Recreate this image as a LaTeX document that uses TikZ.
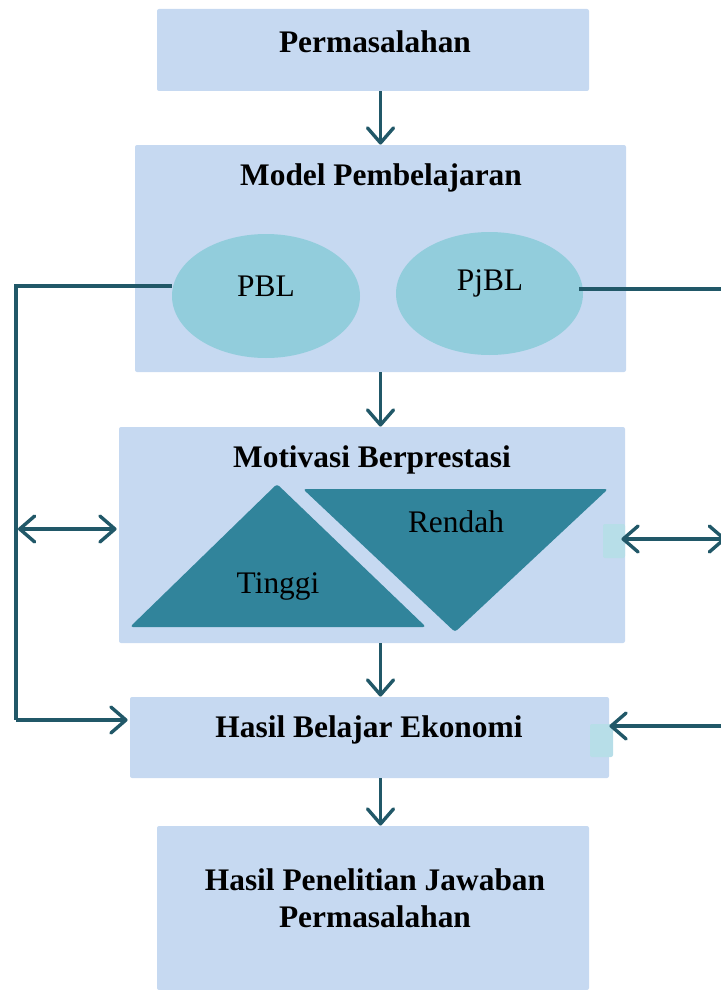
\documentclass[tikz,border=0pt]{standalone}
\usepackage{fontspec}
\setmainfont{Liberation Serif}
\usetikzlibrary{arrows.meta,shapes.geometric}
\definecolor{boxfill}{HTML}{C6D9F1}
\definecolor{ellfill}{HTML}{92CDDC}
\definecolor{trifill}{HTML}{31849B}
\definecolor{linecol}{HTML}{215868}
\definecolor{sqfill}{HTML}{B7DEE8}
\tikzset{
  box/.style={fill=boxfill, draw=none, rounded corners=1pt, inner sep=0pt},
  ell/.style={ellipse, fill=ellfill, draw=none, inner sep=0pt},
  sqbox/.style={fill=sqfill, draw=none, rounded corners=1pt, inner sep=0pt},
  title/.style={font=\fontsize{15.7}{18.5}\selectfont\bfseries, align=center, inner sep=0pt},
  plain/.style={font=\fontsize{15.7}{18.5}\selectfont, inner sep=0pt},
  conn/.style={draw=linecol, line width=1.7pt},
  arr/.style={conn, -{Straight Barb[length=7.5pt,width=13pt,round]}},
  darr/.style={conn, {Straight Barb[length=7.5pt,width=13pt,round]}-{Straight Barb[length=7.5pt,width=13pt,round]}},
  tri/.style={fill=trifill, draw=none, rounded corners=1.5pt}
}
\begin{document}
\begin{tikzpicture}[x=0.5pt,y=-0.5pt]
\useasboundingbox (0,0) rectangle (720,990);
% boxes
\node[box, minimum width=216pt, minimum height=41pt] (box1) at (373,50) {};
\node[box, minimum width=245.5pt, minimum height=113.5pt] (box2) at (380.5,258.5) {};
\node[box, minimum width=253pt, minimum height=108pt] (box3) at (372,535) {};
\node[box, minimum width=239.5pt, minimum height=40.5pt] (box4) at (369.5,737.5) {};
\node[box, minimum width=216pt, minimum height=82pt] (box5) at (373,908) {};
% ellipses
\node[ell, minimum width=94pt, minimum height=62pt] (pbl) at (266,296) {};
\node[ell, minimum width=93.5pt, minimum height=61.5pt] (pjbl) at (489.5,293.5) {};
\node[plain] (pbltxt) at (266,286) {PBL};
\node[plain] (pjbltxt) at (490,283) {PjBL};
% coordinates
\coordinate (L1) at (16,286);
\coordinate (L2) at (16,720);
\coordinate (DL) at (18,529);
\coordinate (R1) at (724,289);
\coordinate (R2) at (726,539);
\coordinate (R3) at (726,726);
% connectors from ellipses
\draw[conn] (pbl.west |- L1) -- (L1) -- (L2);
\draw[arr] (L2) -- ([xshift=-1pt]box4.west |- L2);
\draw[conn] ([xshift=-2pt]pjbl.east |- R1) -- (R1);
% triangles
\draw[tri] (277,484) -- (426,627) -- (130,627) -- cycle;
\draw[tri] (303,489) -- (608,489) -- (455,632) -- cycle;
\node[plain] (tinggi) at (278,586) {Tinggi};
\node[plain] (rendah) at (456,522) {Rendah};
% small squares
\node[sqbox, minimum width=11pt, minimum height=17pt] (sq1) at (614,541) {};
\node[sqbox, minimum width=11.5pt, minimum height=16.5pt] (sq2) at (601.5,740.5) {};
% titles
\node[title] (t1) at (375,42) {Permasalahan};
\node[title] (t2) at (381,178) {Model Pembelajaran};
\node[title] (t3) at (372,460) {Motivasi Berprestasi};
\node[title] (t4) at (369,730) {Hasil Belajar Ekonomi};
\node[title] (t5) at (375,898) {Hasil Penelitian Jawaban\\Permasalahan};
% vertical arrows
\draw[arr] (box1.south -| box2) -- (box2.north);
\draw[arr] (box2.south) -- (box2.south |- box3.north);
\draw[arr] (box3.south -| box2) -- (box4.north -| box2);
\draw[arr] (box4.south -| box2) -- (box5.north -| box2);
% side arrows
\draw[darr] (DL) -- ([xshift=-1pt]box3.west |- DL);
\draw[darr] ([xshift=-2pt]box3.east |- R2) -- (R2);
\draw[arr] (R3) -- (box4.east |- R3);
\end{tikzpicture}
\end{document}
